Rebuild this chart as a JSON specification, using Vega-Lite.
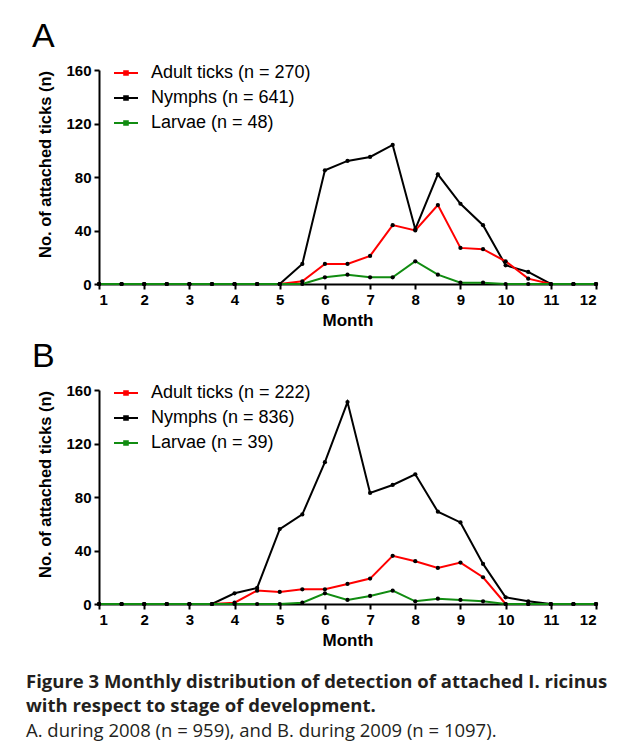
{
  "$schema": "https://vega.github.io/schema/vega-lite/v6.json",
  "background": "white",
  "padding": {"left": 25, "top": 20, "right": 5, "bottom": 5},
  "config": {
    "font": "Liberation Sans",
    "view": {"stroke": null},
    "axis": {
      "domainColor": "black", "domainWidth": 2, "tickColor": "black", "tickWidth": 2, "tickSize": 5,
      "labelFont": "Liberation Sans", "labelFontSize": 15, "labelFontWeight": "bold", "labelColor": "black", "labelPadding": 3,
      "titleFont": "Liberation Sans", "titleFontSize": 17, "titleFontWeight": "bold", "titleColor": "black", "grid": false
    },
    "legend": {
      "orient": "none", "legendX": 14, "legendY": -10, "title": null,
      "symbolType": "M-1,0L1,0M-0.15,-0.15L0.15,-0.15L0.15,0.15L-0.15,0.15Z",
      "symbolSize": 576, "symbolStrokeWidth": 2, "labelFont": "Liberation Sans", "labelFontSize": 18,
      "labelColor": "black", "labelOffset": 12, "rowPadding": 3
    }
  },
  "title": {
    "text": ["Figure 3 Monthly distribution of detection of attached I. ricinus", "with respect to stage of development."],
    "subtitle": "A. during 2008 (n = 959), and B. during 2009 (n = 1097).",
    "orient": "bottom", "anchor": "start", "frame": "bounds", "dx": -6, "offset": 25,
    "font": "Open Sans", "fontSize": 18.5, "fontWeight": "bold", "color": "#231f20", "lineHeight": 23.5,
    "subtitleFont": "Open Sans", "subtitleFontSize": 18.5, "subtitleFontWeight": "normal", "subtitleColor": "#231f20", "subtitlePadding": 7, "subtitleLineHeight": 23.5
  },
  "datasets": {
    "y2008": [
      {"month": 1, "stage": "Nymphs (n = 641)", "count": 0}, {"month": 1.5, "stage": "Nymphs (n = 641)", "count": 0},
      {"month": 2, "stage": "Nymphs (n = 641)", "count": 0}, {"month": 2.5, "stage": "Nymphs (n = 641)", "count": 0},
      {"month": 3, "stage": "Nymphs (n = 641)", "count": 0}, {"month": 3.5, "stage": "Nymphs (n = 641)", "count": 0},
      {"month": 4, "stage": "Nymphs (n = 641)", "count": 0}, {"month": 4.5, "stage": "Nymphs (n = 641)", "count": 0},
      {"month": 5, "stage": "Nymphs (n = 641)", "count": 0}, {"month": 5.5, "stage": "Nymphs (n = 641)", "count": 15},
      {"month": 6, "stage": "Nymphs (n = 641)", "count": 85}, {"month": 6.5, "stage": "Nymphs (n = 641)", "count": 92},
      {"month": 7, "stage": "Nymphs (n = 641)", "count": 95}, {"month": 7.5, "stage": "Nymphs (n = 641)", "count": 104},
      {"month": 8, "stage": "Nymphs (n = 641)", "count": 41}, {"month": 8.5, "stage": "Nymphs (n = 641)", "count": 82},
      {"month": 9, "stage": "Nymphs (n = 641)", "count": 60}, {"month": 9.5, "stage": "Nymphs (n = 641)", "count": 44},
      {"month": 10, "stage": "Nymphs (n = 641)", "count": 14}, {"month": 10.5, "stage": "Nymphs (n = 641)", "count": 9},
      {"month": 11, "stage": "Nymphs (n = 641)", "count": 0}, {"month": 11.5, "stage": "Nymphs (n = 641)", "count": 0},
      {"month": 12, "stage": "Nymphs (n = 641)", "count": 0},
      {"month": 1, "stage": "Adult ticks (n = 270)", "count": 0}, {"month": 1.5, "stage": "Adult ticks (n = 270)", "count": 0},
      {"month": 2, "stage": "Adult ticks (n = 270)", "count": 0}, {"month": 2.5, "stage": "Adult ticks (n = 270)", "count": 0},
      {"month": 3, "stage": "Adult ticks (n = 270)", "count": 0}, {"month": 3.5, "stage": "Adult ticks (n = 270)", "count": 0},
      {"month": 4, "stage": "Adult ticks (n = 270)", "count": 0}, {"month": 4.5, "stage": "Adult ticks (n = 270)", "count": 0},
      {"month": 5, "stage": "Adult ticks (n = 270)", "count": 0}, {"month": 5.5, "stage": "Adult ticks (n = 270)", "count": 2},
      {"month": 6, "stage": "Adult ticks (n = 270)", "count": 15}, {"month": 6.5, "stage": "Adult ticks (n = 270)", "count": 15},
      {"month": 7, "stage": "Adult ticks (n = 270)", "count": 21}, {"month": 7.5, "stage": "Adult ticks (n = 270)", "count": 44},
      {"month": 8, "stage": "Adult ticks (n = 270)", "count": 40}, {"month": 8.5, "stage": "Adult ticks (n = 270)", "count": 59},
      {"month": 9, "stage": "Adult ticks (n = 270)", "count": 27}, {"month": 9.5, "stage": "Adult ticks (n = 270)", "count": 26},
      {"month": 10, "stage": "Adult ticks (n = 270)", "count": 17}, {"month": 10.5, "stage": "Adult ticks (n = 270)", "count": 4},
      {"month": 11, "stage": "Adult ticks (n = 270)", "count": 0}, {"month": 11.5, "stage": "Adult ticks (n = 270)", "count": 0},
      {"month": 12, "stage": "Adult ticks (n = 270)", "count": 0},
      {"month": 1, "stage": "Larvae (n = 48)", "count": 0}, {"month": 1.5, "stage": "Larvae (n = 48)", "count": 0},
      {"month": 2, "stage": "Larvae (n = 48)", "count": 0}, {"month": 2.5, "stage": "Larvae (n = 48)", "count": 0},
      {"month": 3, "stage": "Larvae (n = 48)", "count": 0}, {"month": 3.5, "stage": "Larvae (n = 48)", "count": 0},
      {"month": 4, "stage": "Larvae (n = 48)", "count": 0}, {"month": 4.5, "stage": "Larvae (n = 48)", "count": 0},
      {"month": 5, "stage": "Larvae (n = 48)", "count": 0}, {"month": 5.5, "stage": "Larvae (n = 48)", "count": 0},
      {"month": 6, "stage": "Larvae (n = 48)", "count": 5}, {"month": 6.5, "stage": "Larvae (n = 48)", "count": 7},
      {"month": 7, "stage": "Larvae (n = 48)", "count": 5}, {"month": 7.5, "stage": "Larvae (n = 48)", "count": 5},
      {"month": 8, "stage": "Larvae (n = 48)", "count": 17}, {"month": 8.5, "stage": "Larvae (n = 48)", "count": 7},
      {"month": 9, "stage": "Larvae (n = 48)", "count": 1}, {"month": 9.5, "stage": "Larvae (n = 48)", "count": 1},
      {"month": 10, "stage": "Larvae (n = 48)", "count": 0}, {"month": 10.5, "stage": "Larvae (n = 48)", "count": 0},
      {"month": 11, "stage": "Larvae (n = 48)", "count": 0}, {"month": 11.5, "stage": "Larvae (n = 48)", "count": 0},
      {"month": 12, "stage": "Larvae (n = 48)", "count": 0}
    ],
    "y2009": [
      {"month": 1, "stage": "Nymphs (n = 836)", "count": 0}, {"month": 1.5, "stage": "Nymphs (n = 836)", "count": 0},
      {"month": 2, "stage": "Nymphs (n = 836)", "count": 0}, {"month": 2.5, "stage": "Nymphs (n = 836)", "count": 0},
      {"month": 3, "stage": "Nymphs (n = 836)", "count": 0}, {"month": 3.5, "stage": "Nymphs (n = 836)", "count": 0},
      {"month": 4, "stage": "Nymphs (n = 836)", "count": 8}, {"month": 4.5, "stage": "Nymphs (n = 836)", "count": 12},
      {"month": 5, "stage": "Nymphs (n = 836)", "count": 56}, {"month": 5.5, "stage": "Nymphs (n = 836)", "count": 67},
      {"month": 6, "stage": "Nymphs (n = 836)", "count": 106}, {"month": 6.5, "stage": "Nymphs (n = 836)", "count": 151},
      {"month": 7, "stage": "Nymphs (n = 836)", "count": 83}, {"month": 7.5, "stage": "Nymphs (n = 836)", "count": 89},
      {"month": 8, "stage": "Nymphs (n = 836)", "count": 97}, {"month": 8.5, "stage": "Nymphs (n = 836)", "count": 69},
      {"month": 9, "stage": "Nymphs (n = 836)", "count": 61}, {"month": 9.5, "stage": "Nymphs (n = 836)", "count": 30},
      {"month": 10, "stage": "Nymphs (n = 836)", "count": 5}, {"month": 10.5, "stage": "Nymphs (n = 836)", "count": 2},
      {"month": 11, "stage": "Nymphs (n = 836)", "count": 0}, {"month": 11.5, "stage": "Nymphs (n = 836)", "count": 0},
      {"month": 12, "stage": "Nymphs (n = 836)", "count": 0},
      {"month": 1, "stage": "Adult ticks (n = 222)", "count": 0}, {"month": 1.5, "stage": "Adult ticks (n = 222)", "count": 0},
      {"month": 2, "stage": "Adult ticks (n = 222)", "count": 0}, {"month": 2.5, "stage": "Adult ticks (n = 222)", "count": 0},
      {"month": 3, "stage": "Adult ticks (n = 222)", "count": 0}, {"month": 3.5, "stage": "Adult ticks (n = 222)", "count": 0},
      {"month": 4, "stage": "Adult ticks (n = 222)", "count": 1}, {"month": 4.5, "stage": "Adult ticks (n = 222)", "count": 10},
      {"month": 5, "stage": "Adult ticks (n = 222)", "count": 9}, {"month": 5.5, "stage": "Adult ticks (n = 222)", "count": 11},
      {"month": 6, "stage": "Adult ticks (n = 222)", "count": 11}, {"month": 6.5, "stage": "Adult ticks (n = 222)", "count": 15},
      {"month": 7, "stage": "Adult ticks (n = 222)", "count": 19}, {"month": 7.5, "stage": "Adult ticks (n = 222)", "count": 36},
      {"month": 8, "stage": "Adult ticks (n = 222)", "count": 32}, {"month": 8.5, "stage": "Adult ticks (n = 222)", "count": 27},
      {"month": 9, "stage": "Adult ticks (n = 222)", "count": 31}, {"month": 9.5, "stage": "Adult ticks (n = 222)", "count": 20},
      {"month": 10, "stage": "Adult ticks (n = 222)", "count": 0}, {"month": 10.5, "stage": "Adult ticks (n = 222)", "count": 0},
      {"month": 11, "stage": "Adult ticks (n = 222)", "count": 0}, {"month": 11.5, "stage": "Adult ticks (n = 222)", "count": 0},
      {"month": 12, "stage": "Adult ticks (n = 222)", "count": 0},
      {"month": 1, "stage": "Larvae (n = 39)", "count": 0}, {"month": 1.5, "stage": "Larvae (n = 39)", "count": 0},
      {"month": 2, "stage": "Larvae (n = 39)", "count": 0}, {"month": 2.5, "stage": "Larvae (n = 39)", "count": 0},
      {"month": 3, "stage": "Larvae (n = 39)", "count": 0}, {"month": 3.5, "stage": "Larvae (n = 39)", "count": 0},
      {"month": 4, "stage": "Larvae (n = 39)", "count": 0}, {"month": 4.5, "stage": "Larvae (n = 39)", "count": 0},
      {"month": 5, "stage": "Larvae (n = 39)", "count": 0}, {"month": 5.5, "stage": "Larvae (n = 39)", "count": 1},
      {"month": 6, "stage": "Larvae (n = 39)", "count": 8}, {"month": 6.5, "stage": "Larvae (n = 39)", "count": 3},
      {"month": 7, "stage": "Larvae (n = 39)", "count": 6}, {"month": 7.5, "stage": "Larvae (n = 39)", "count": 10},
      {"month": 8, "stage": "Larvae (n = 39)", "count": 2}, {"month": 8.5, "stage": "Larvae (n = 39)", "count": 4},
      {"month": 9, "stage": "Larvae (n = 39)", "count": 3}, {"month": 9.5, "stage": "Larvae (n = 39)", "count": 2},
      {"month": 10, "stage": "Larvae (n = 39)", "count": 0}, {"month": 10.5, "stage": "Larvae (n = 39)", "count": 0},
      {"month": 11, "stage": "Larvae (n = 39)", "count": 0}, {"month": 11.5, "stage": "Larvae (n = 39)", "count": 0},
      {"month": 12, "stage": "Larvae (n = 39)", "count": 0}
    ]
  },
  "spacing": 12,
  "resolve": {"scale": {"color": "independent"}, "legend": {"color": "independent"}},
  "vconcat": [
    {
      "title": {"text": "A", "anchor": "start", "frame": "bounds", "fontSize": 34, "fontWeight": "normal", "font": "Liberation Sans", "color": "black", "dx": -6, "offset": 6},
      "width": 497, "height": 214,
      "data": {"name": "y2008"},
      "layer": [
        {
          "mark": {"type": "line", "strokeWidth": 2},
          "encoding": {
            "x": {"field": "month", "type": "quantitative", "scale": {"domain": [1, 12], "nice": false, "zero": false},
                  "axis": {"values": [1, 2, 3, 4, 5, 6, 7, 8, 9, 10, 11, 12], "format": "d", "title": "Month", "titlePadding": 5}},
            "y": {"field": "count", "type": "quantitative", "scale": {"domain": [0, 160], "nice": false},
                  "axis": {"values": [0, 40, 80, 120, 160], "title": "No. of attached ticks (n)", "titlePadding": 12, "titleFontSize": 16.5, "titleY": 94}},
            "color": {"field": "stage", "type": "nominal",
                      "scale": {"domain": ["Adult ticks (n = 270)", "Nymphs (n = 641)", "Larvae (n = 48)"], "range": ["#ff0000", "#000000", "#118c11"]},
                      "legend": {"encode": {"symbols": {"update": {"fill": {"value": "black"}}}}}}
          }
        },
        {
          "mark": {"type": "point", "filled": true, "color": "black", "size": 18, "opacity": 1},
          "encoding": {
            "x": {"field": "month", "type": "quantitative"},
            "y": {"field": "count", "type": "quantitative"},
            "detail": {"field": "stage"}
          }
        }
      ]
    },
    {
      "title": {"text": "B", "anchor": "start", "frame": "bounds", "fontSize": 34, "fontWeight": "normal", "font": "Liberation Sans", "color": "black", "dx": -6, "offset": 6},
      "width": 497, "height": 214,
      "data": {"name": "y2009"},
      "layer": [
        {
          "mark": {"type": "line", "strokeWidth": 2},
          "encoding": {
            "x": {"field": "month", "type": "quantitative", "scale": {"domain": [1, 12], "nice": false, "zero": false},
                  "axis": {"values": [1, 2, 3, 4, 5, 6, 7, 8, 9, 10, 11, 12], "format": "d", "title": "Month", "titlePadding": 5}},
            "y": {"field": "count", "type": "quantitative", "scale": {"domain": [0, 160], "nice": false},
                  "axis": {"values": [0, 40, 80, 120, 160], "title": "No. of attached ticks (n)", "titlePadding": 12, "titleFontSize": 16.5, "titleY": 94}},
            "color": {"field": "stage", "type": "nominal",
                      "scale": {"domain": ["Adult ticks (n = 222)", "Nymphs (n = 836)", "Larvae (n = 39)"], "range": ["#ff0000", "#000000", "#118c11"]},
                      "legend": {"encode": {"symbols": {"update": {"fill": {"value": "black"}}}}}}
          }
        },
        {
          "mark": {"type": "point", "filled": true, "color": "black", "size": 18, "opacity": 1},
          "encoding": {
            "x": {"field": "month", "type": "quantitative"},
            "y": {"field": "count", "type": "quantitative"},
            "detail": {"field": "stage"}
          }
        }
      ]
    }
  ]
}
